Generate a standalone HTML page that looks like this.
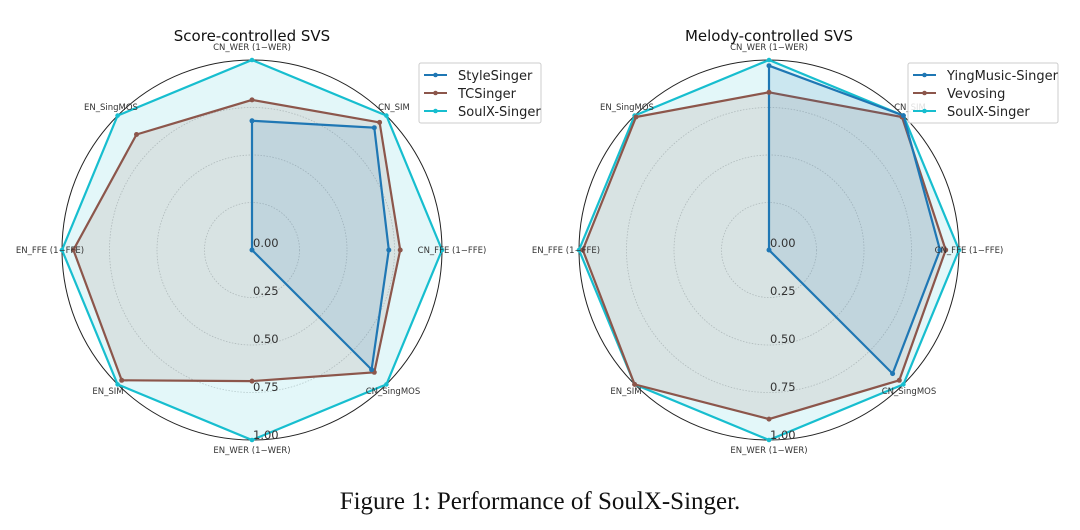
<!DOCTYPE html>
<html><head><meta charset="utf-8"><style>
body{margin:0;background:#fff;}
svg{display:block;font-family:"DejaVu Sans","Liberation Sans",sans-serif;}
.ax{font-size:8.5px;fill:#333;text-anchor:middle;}
.tk{font-size:11.5px;fill:#333;}
.g{fill:none;stroke:#ccc;stroke-width:0.8;stroke-dasharray:1.5,1.5;}
.lg{font-size:13px;fill:#222;}
</style></head><body>
<svg width="1080" height="530" viewBox="0 0 1080 530">
<!-- LEFT -->
<g>
<circle cx="252" cy="250" r="47.5" class="g"/><circle cx="252" cy="250" r="95" class="g"/><circle cx="252" cy="250" r="142.5" class="g"/>
<circle cx="252" cy="250" r="190" fill="none" stroke="#222" stroke-width="1"/>
<polygon points="252,60 386.4,115.6 442,250 386.4,384.4 252,440 117.6,384.4 62,250 117.6,115.6" fill="#17becf" fill-opacity="0.12" stroke="#17becf" stroke-width="2.2"/>
<polygon points="252,99.9 379.6,122.4 400.2,250 374.3,372.3 252,381.1 121.7,380.3 73.4,250 136.5,134.5" fill="#8c564b" fill-opacity="0.12" stroke="#8c564b" stroke-width="2.2"/>
<polygon points="252,120.8 374.3,127.7 388.8,250 371.6,369.6 252,250 252,250 252,250 252,250" fill="#1f77b4" fill-opacity="0.12" stroke="#1f77b4" stroke-width="2.2"/>
<g fill="#17becf"><circle cx="252" cy="60" r="2.3"/><circle cx="386.4" cy="115.6" r="2.3"/><circle cx="442" cy="250" r="2.3"/><circle cx="386.4" cy="384.4" r="2.3"/><circle cx="252" cy="440" r="2.3"/><circle cx="117.6" cy="384.4" r="2.3"/><circle cx="62" cy="250" r="2.3"/><circle cx="117.6" cy="115.6" r="2.3"/></g>
<g fill="#8c564b"><circle cx="252" cy="99.9" r="2.5"/><circle cx="379.6" cy="122.4" r="2.5"/><circle cx="400.2" cy="250" r="2.5"/><circle cx="374.3" cy="372.3" r="2.5"/><circle cx="252" cy="381.1" r="2.5"/><circle cx="121.7" cy="380.3" r="2.5"/><circle cx="73.4" cy="250" r="2.5"/><circle cx="136.5" cy="134.5" r="2.5"/></g>
<g fill="#1f77b4"><circle cx="252" cy="120.8" r="2.5"/><circle cx="374.3" cy="127.7" r="2.5"/><circle cx="388.8" cy="250" r="2.5"/><circle cx="371.6" cy="369.6" r="2.5"/><circle cx="252" cy="250" r="2.5"/></g>
<text class="tk" x="253" y="247">0.00</text><text class="tk" x="253" y="295">0.25</text><text class="tk" x="253" y="343">0.50</text><text class="tk" x="253" y="391">0.75</text><text class="tk" x="253" y="439">1.00</text>
<text class="ax" x="252" y="50">CN_WER (1−WER)</text>
<text class="ax" x="394" y="110">CN_SIM</text>
<text class="ax" x="452" y="253">CN_FFE (1−FFE)</text>
<text class="ax" x="393" y="394">CN_SingMOS</text>
<text class="ax" x="252" y="453">EN_WER (1−WER)</text>
<text class="ax" x="108" y="394">EN_SIM</text>
<text class="ax" x="50" y="253">EN_FFE (1−FFE)</text>
<text class="ax" x="111" y="110">EN_SingMOS</text>
<text x="252" y="41" font-size="15" text-anchor="middle" fill="#111">Score-controlled SVS</text>
<rect x="419" y="63" width="122" height="60" rx="2" fill="#fff" fill-opacity="0.85" stroke="#ccc"/>
<line x1="424" y1="75" x2="447" y2="75" stroke="#1f77b4" stroke-width="2"/><circle cx="435.5" cy="75" r="2.3" fill="#1f77b4"/><text class="lg" x="458" y="80">StyleSinger</text>
<line x1="424" y1="93" x2="447" y2="93" stroke="#8c564b" stroke-width="2"/><circle cx="435.5" cy="93" r="2.3" fill="#8c564b"/><text class="lg" x="458" y="98">TCSinger</text>
<line x1="424" y1="111" x2="447" y2="111" stroke="#17becf" stroke-width="2"/><circle cx="435.5" cy="111" r="2.3" fill="#17becf"/><text class="lg" x="458" y="116">SoulX-Singer</text>
</g>
<!-- RIGHT -->
<g>
<circle cx="769" cy="250" r="47.5" class="g"/><circle cx="769" cy="250" r="95" class="g"/><circle cx="769" cy="250" r="142.5" class="g"/>
<circle cx="769" cy="250" r="190" fill="none" stroke="#222" stroke-width="1"/>
<polygon points="769,60 903.4,115.6 959,250 903.4,384.4 769,440 634.6,384.4 579,250 634.6,115.6" fill="#17becf" fill-opacity="0.12" stroke="#17becf" stroke-width="2.2"/>
<polygon points="769,92.3 902,117 945.7,250 899.3,380.3 769,419.1 634.6,384.4 582.8,250 636,117" fill="#8c564b" fill-opacity="0.12" stroke="#8c564b" stroke-width="2.2"/>
<polygon points="769,65.7 903.4,115.6 940,250 892.6,373.6 769,250 769,250 769,250 769,250" fill="#1f77b4" fill-opacity="0.12" stroke="#1f77b4" stroke-width="2.2"/>
<g fill="#17becf"><circle cx="769" cy="60" r="2.3"/><circle cx="903.4" cy="115.6" r="2.3"/><circle cx="959" cy="250" r="2.3"/><circle cx="903.4" cy="384.4" r="2.3"/><circle cx="769" cy="440" r="2.3"/><circle cx="634.6" cy="384.4" r="2.3"/><circle cx="579" cy="250" r="2.3"/><circle cx="634.6" cy="115.6" r="2.3"/></g>
<g fill="#8c564b"><circle cx="769" cy="92.3" r="2.5"/><circle cx="902" cy="117" r="2.5"/><circle cx="945.7" cy="250" r="2.5"/><circle cx="899.3" cy="380.3" r="2.5"/><circle cx="769" cy="419.1" r="2.5"/><circle cx="634.6" cy="384.4" r="2.5"/><circle cx="582.8" cy="250" r="2.5"/><circle cx="636" cy="117" r="2.5"/></g>
<g fill="#1f77b4"><circle cx="769" cy="65.7" r="2.5"/><circle cx="903.4" cy="115.6" r="2.5"/><circle cx="940" cy="250" r="2.5"/><circle cx="892.6" cy="373.6" r="2.5"/><circle cx="769" cy="250" r="2.5"/></g>
<text class="tk" x="770" y="247">0.00</text><text class="tk" x="770" y="295">0.25</text><text class="tk" x="770" y="343">0.50</text><text class="tk" x="770" y="391">0.75</text><text class="tk" x="770" y="439">1.00</text>
<text class="ax" x="769" y="50">CN_WER (1−WER)</text>
<text class="ax" x="910" y="110">CN_SIM</text>
<text class="ax" x="969" y="253">CN_FFE (1−FFE)</text>
<text class="ax" x="909" y="394">CN_SingMOS</text>
<text class="ax" x="769" y="453">EN_WER (1−WER)</text>
<text class="ax" x="626" y="394">EN_SIM</text>
<text class="ax" x="566" y="253">EN_FFE (1−FFE)</text>
<text class="ax" x="627" y="110">EN_SingMOS</text>
<text x="769" y="41" font-size="15" text-anchor="middle" fill="#111">Melody-controlled SVS</text>
<rect x="908" y="63" width="150" height="60" rx="2" fill="#fff" fill-opacity="0.85" stroke="#ccc"/>
<line x1="913" y1="75" x2="936" y2="75" stroke="#1f77b4" stroke-width="2"/><circle cx="924.5" cy="75" r="2.3" fill="#1f77b4"/><text class="lg" x="947" y="80">YingMusic-Singer</text>
<line x1="913" y1="93" x2="936" y2="93" stroke="#8c564b" stroke-width="2"/><circle cx="924.5" cy="93" r="2.3" fill="#8c564b"/><text class="lg" x="947" y="98">Vevosing</text>
<line x1="913" y1="111" x2="936" y2="111" stroke="#17becf" stroke-width="2"/><circle cx="924.5" cy="111" r="2.3" fill="#17becf"/><text class="lg" x="947" y="116">SoulX-Singer</text>
</g>
<text x="540" y="509" font-family="'Liberation Serif',serif" font-size="25" text-anchor="middle" fill="#111">Figure 1: Performance of SoulX-Singer.</text>
</svg>
</body></html>
